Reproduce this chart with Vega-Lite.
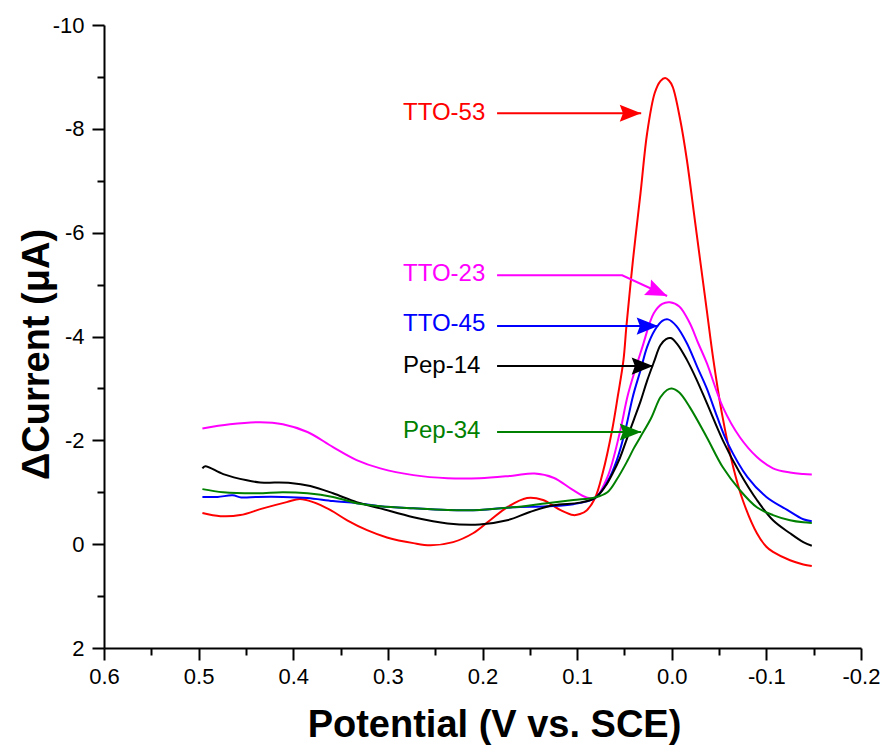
{
  "$schema": "https://vega.github.io/schema/vega-lite/v6.json",
  "width": 757,
  "height": 623,
  "autosize": "none",
  "padding": {"left": 104, "top": 25, "right": 23, "bottom": 97},
  "background": "white",
  "config": {"view": {"stroke": null}, "font": "Liberation Sans"},
  "datasets": {
    "curves": [
      {"s":"TTO-53","x":0.496,"y":-0.60},{"s":"TTO-53","x":0.477,"y":-0.54},{"s":"TTO-53","x":0.456,"y":-0.56},{"s":"TTO-53","x":0.432,"y":-0.69},{"s":"TTO-53","x":0.407,"y":-0.81},{"s":"TTO-53","x":0.393,"y":-0.87},{"s":"TTO-53","x":0.379,"y":-0.81},{"s":"TTO-53","x":0.361,"y":-0.66},{"s":"TTO-53","x":0.343,"y":-0.46},{"s":"TTO-53","x":0.322,"y":-0.27},{"s":"TTO-53","x":0.301,"y":-0.13},{"s":"TTO-53","x":0.273,"y":-0.02},{"s":"TTO-53","x":0.255,"y":0.02},{"s":"TTO-53","x":0.231,"y":-0.04},{"s":"TTO-53","x":0.21,"y":-0.21},{"s":"TTO-53","x":0.192,"y":-0.46},{"s":"TTO-53","x":0.174,"y":-0.71},{"s":"TTO-53","x":0.153,"y":-0.89},{"s":"TTO-53","x":0.136,"y":-0.85},{"s":"TTO-53","x":0.118,"y":-0.66},{"s":"TTO-53","x":0.104,"y":-0.56},{"s":"TTO-53","x":0.097,"y":-0.58},{"s":"TTO-53","x":0.09,"y":-0.65},{"s":"TTO-53","x":0.081,"y":-0.89},{"s":"TTO-53","x":0.073,"y":-1.37},{"s":"TTO-53","x":0.063,"y":-2.2},{"s":"TTO-53","x":0.057,"y":-2.85},{"s":"TTO-53","x":0.051,"y":-3.55},{"s":"TTO-53","x":0.048,"y":-4.18},{"s":"TTO-53","x":0.041,"y":-5.47},{"s":"TTO-53","x":0.033,"y":-6.76},{"s":"TTO-53","x":0.026,"y":-7.92},{"s":"TTO-53","x":0.018,"y":-8.69},{"s":"TTO-53","x":0.012,"y":-8.92},{"s":"TTO-53","x":0.007,"y":-8.98},{"s":"TTO-53","x":0.003,"y":-8.93},{"s":"TTO-53","x":-0.001,"y":-8.81},{"s":"TTO-53","x":-0.009,"y":-8.17},{"s":"TTO-53","x":-0.016,"y":-7.4},{"s":"TTO-53","x":-0.023,"y":-6.44},{"s":"TTO-53","x":-0.03,"y":-5.47},{"s":"TTO-53","x":-0.037,"y":-4.51},{"s":"TTO-53","x":-0.044,"y":-3.55},{"s":"TTO-53","x":-0.053,"y":-2.52},{"s":"TTO-53","x":-0.065,"y":-1.48},{"s":"TTO-53","x":-0.075,"y":-0.85},{"s":"TTO-53","x":-0.09,"y":-0.21},{"s":"TTO-53","x":-0.1,"y":0.05},{"s":"TTO-53","x":-0.107,"y":0.15},{"s":"TTO-53","x":-0.125,"y":0.31},{"s":"TTO-53","x":-0.139,"y":0.39},{"s":"TTO-53","x":-0.148,"y":0.42},

      {"s":"TTO-23","x":0.496,"y":-2.23},{"s":"TTO-23","x":0.467,"y":-2.31},{"s":"TTO-23","x":0.435,"y":-2.35},{"s":"TTO-23","x":0.411,"y":-2.31},{"s":"TTO-23","x":0.385,"y":-2.16},{"s":"TTO-23","x":0.358,"y":-1.87},{"s":"TTO-23","x":0.333,"y":-1.62},{"s":"TTO-23","x":0.308,"y":-1.46},{"s":"TTO-23","x":0.273,"y":-1.33},{"s":"TTO-23","x":0.237,"y":-1.27},{"s":"TTO-23","x":0.203,"y":-1.27},{"s":"TTO-23","x":0.168,"y":-1.32},{"s":"TTO-23","x":0.145,"y":-1.36},{"s":"TTO-23","x":0.125,"y":-1.28},{"s":"TTO-23","x":0.105,"y":-1.05},{"s":"TTO-23","x":0.09,"y":-0.9},{"s":"TTO-23","x":0.081,"y":-0.89},{"s":"TTO-23","x":0.068,"y":-1.29},{"s":"TTO-23","x":0.055,"y":-2.14},{"s":"TTO-23","x":0.046,"y":-2.9},{"s":"TTO-23","x":0.031,"y":-3.8},{"s":"TTO-23","x":0.019,"y":-4.45},{"s":"TTO-23","x":0.01,"y":-4.63},{"s":"TTO-23","x":0.002,"y":-4.66},{"s":"TTO-23","x":-0.008,"y":-4.58},{"s":"TTO-23","x":-0.019,"y":-4.26},{"s":"TTO-23","x":-0.028,"y":-3.87},{"s":"TTO-23","x":-0.037,"y":-3.49},{"s":"TTO-23","x":-0.054,"y":-2.64},{"s":"TTO-23","x":-0.072,"y":-2.06},{"s":"TTO-23","x":-0.09,"y":-1.68},{"s":"TTO-23","x":-0.107,"y":-1.46},{"s":"TTO-23","x":-0.125,"y":-1.38},{"s":"TTO-23","x":-0.139,"y":-1.35},{"s":"TTO-23","x":-0.148,"y":-1.34},

      {"s":"TTO-45","x":0.496,"y":-0.91},{"s":"TTO-45","x":0.48,"y":-0.91},{"s":"TTO-45","x":0.464,"y":-0.94},{"s":"TTO-45","x":0.455,"y":-0.9},{"s":"TTO-45","x":0.438,"y":-0.91},{"s":"TTO-45","x":0.411,"y":-0.91},{"s":"TTO-45","x":0.385,"y":-0.89},{"s":"TTO-45","x":0.358,"y":-0.83},{"s":"TTO-45","x":0.333,"y":-0.79},{"s":"TTO-45","x":0.308,"y":-0.73},{"s":"TTO-45","x":0.273,"y":-0.69},{"s":"TTO-45","x":0.237,"y":-0.66},{"s":"TTO-45","x":0.203,"y":-0.66},{"s":"TTO-45","x":0.168,"y":-0.71},{"s":"TTO-45","x":0.132,"y":-0.73},{"s":"TTO-45","x":0.104,"y":-0.77},{"s":"TTO-45","x":0.081,"y":-0.89},{"s":"TTO-45","x":0.068,"y":-1.2},{"s":"TTO-45","x":0.058,"y":-1.62},{"s":"TTO-45","x":0.049,"y":-2.2},{"s":"TTO-45","x":0.041,"y":-2.85},{"s":"TTO-45","x":0.033,"y":-3.35},{"s":"TTO-45","x":0.026,"y":-3.8},{"s":"TTO-45","x":0.018,"y":-4.12},{"s":"TTO-45","x":0.01,"y":-4.3},{"s":"TTO-45","x":0.004,"y":-4.33},{"s":"TTO-45","x":-0.005,"y":-4.2},{"s":"TTO-45","x":-0.016,"y":-3.87},{"s":"TTO-45","x":-0.027,"y":-3.41},{"s":"TTO-45","x":-0.037,"y":-3.0},{"s":"TTO-45","x":-0.048,"y":-2.45},{"s":"TTO-45","x":-0.059,"y":-1.95},{"s":"TTO-45","x":-0.08,"y":-1.29},{"s":"TTO-45","x":-0.1,"y":-0.91},{"s":"TTO-45","x":-0.122,"y":-0.66},{"s":"TTO-45","x":-0.139,"y":-0.48},{"s":"TTO-45","x":-0.148,"y":-0.44},

      {"s":"Pep-14","x":0.496,"y":-1.46},{"s":"Pep-14","x":0.493,"y":-1.5},{"s":"Pep-14","x":0.474,"y":-1.35},{"s":"Pep-14","x":0.449,"y":-1.23},{"s":"Pep-14","x":0.435,"y":-1.19},{"s":"Pep-14","x":0.403,"y":-1.18},{"s":"Pep-14","x":0.382,"y":-1.12},{"s":"Pep-14","x":0.358,"y":-0.98},{"s":"Pep-14","x":0.333,"y":-0.81},{"s":"Pep-14","x":0.308,"y":-0.69},{"s":"Pep-14","x":0.273,"y":-0.52},{"s":"Pep-14","x":0.237,"y":-0.4},{"s":"Pep-14","x":0.203,"y":-0.38},{"s":"Pep-14","x":0.174,"y":-0.46},{"s":"Pep-14","x":0.15,"y":-0.62},{"s":"Pep-14","x":0.125,"y":-0.75},{"s":"Pep-14","x":0.097,"y":-0.8},{"s":"Pep-14","x":0.081,"y":-0.89},{"s":"Pep-14","x":0.07,"y":-1.12},{"s":"Pep-14","x":0.062,"y":-1.38},{"s":"Pep-14","x":0.055,"y":-1.65},{"s":"Pep-14","x":0.048,"y":-2.0},{"s":"Pep-14","x":0.04,"y":-2.4},{"s":"Pep-14","x":0.033,"y":-2.75},{"s":"Pep-14","x":0.026,"y":-3.15},{"s":"Pep-14","x":0.019,"y":-3.5},{"s":"Pep-14","x":0.012,"y":-3.83},{"s":"Pep-14","x":0.006,"y":-3.95},{"s":"Pep-14","x":0.001,"y":-3.97},{"s":"Pep-14","x":-0.006,"y":-3.85},{"s":"Pep-14","x":-0.016,"y":-3.55},{"s":"Pep-14","x":-0.026,"y":-3.18},{"s":"Pep-14","x":-0.037,"y":-2.72},{"s":"Pep-14","x":-0.054,"y":-2.0},{"s":"Pep-14","x":-0.072,"y":-1.37},{"s":"Pep-14","x":-0.09,"y":-0.85},{"s":"Pep-14","x":-0.107,"y":-0.46},{"s":"Pep-14","x":-0.125,"y":-0.21},{"s":"Pep-14","x":-0.139,"y":-0.04},{"s":"Pep-14","x":-0.148,"y":0.03},

      {"s":"Pep-34","x":0.496,"y":-1.06},{"s":"Pep-34","x":0.474,"y":-1.0},{"s":"Pep-34","x":0.438,"y":-0.98},{"s":"Pep-34","x":0.411,"y":-1.0},{"s":"Pep-34","x":0.385,"y":-0.98},{"s":"Pep-34","x":0.358,"y":-0.91},{"s":"Pep-34","x":0.333,"y":-0.79},{"s":"Pep-34","x":0.308,"y":-0.73},{"s":"Pep-34","x":0.273,"y":-0.69},{"s":"Pep-34","x":0.237,"y":-0.66},{"s":"Pep-34","x":0.203,"y":-0.66},{"s":"Pep-34","x":0.168,"y":-0.71},{"s":"Pep-34","x":0.132,"y":-0.79},{"s":"Pep-34","x":0.104,"y":-0.85},{"s":"Pep-34","x":0.081,"y":-0.9},{"s":"Pep-34","x":0.068,"y":-1.0},{"s":"Pep-34","x":0.058,"y":-1.25},{"s":"Pep-34","x":0.047,"y":-1.6},{"s":"Pep-34","x":0.04,"y":-1.85},{"s":"Pep-34","x":0.033,"y":-2.07},{"s":"Pep-34","x":0.022,"y":-2.42},{"s":"Pep-34","x":0.012,"y":-2.83},{"s":"Pep-34","x":0.005,"y":-2.97},{"s":"Pep-34","x":0.0,"y":-3.0},{"s":"Pep-34","x":-0.008,"y":-2.92},{"s":"Pep-34","x":-0.019,"y":-2.64},{"s":"Pep-34","x":-0.037,"y":-2.06},{"s":"Pep-34","x":-0.054,"y":-1.48},{"s":"Pep-34","x":-0.072,"y":-1.04},{"s":"Pep-34","x":-0.09,"y":-0.71},{"s":"Pep-34","x":-0.107,"y":-0.56},{"s":"Pep-34","x":-0.125,"y":-0.46},{"s":"Pep-34","x":-0.139,"y":-0.42},{"s":"Pep-34","x":-0.148,"y":-0.41}
    ],
    "arrows": [
      {"s":"TTO-53","x":0.1846,"y":-8.30},{"s":"TTO-53","x":0.0323,"y":-8.30},
      {"s":"TTO-23","x":0.1846,"y":-5.18},{"s":"TTO-23","x":0.0524,"y":-5.18},{"s":"TTO-23","x":0.0049,"y":-4.78},
      {"s":"TTO-45","x":0.1846,"y":-4.20},{"s":"TTO-45","x":0.0144,"y":-4.20},
      {"s":"Pep-14","x":0.1846,"y":-3.43},{"s":"Pep-14","x":0.0197,"y":-3.43},
      {"s":"Pep-34","x":0.1846,"y":-2.16},{"s":"Pep-34","x":0.0323,"y":-2.16}
    ],
    "heads": [
      {"s":"TTO-53","x":0.0323,"y":-8.30},
      {"s":"TTO-23","x":0.0049,"y":-4.78},
      {"s":"TTO-45","x":0.0144,"y":-4.20},
      {"s":"Pep-14","x":0.0197,"y":-3.43},
      {"s":"Pep-34","x":0.0323,"y":-2.16}
    ],
    "labels": [
      {"s":"TTO-53","x":0.284,"y":-8.30},
      {"s":"TTO-23","x":0.284,"y":-5.20},
      {"s":"TTO-45","x":0.284,"y":-4.25},
      {"s":"Pep-14","x":0.284,"y":-3.43},
      {"s":"Pep-34","x":0.284,"y":-2.18}
    ]
  },
  "encoding": {
    "x": {
      "field": "x", "type": "quantitative",
      "scale": {"domain": [-0.2, 0.6], "reverse": true, "nice": false, "zero": false},
      "axis": {
        "values": [-0.2,-0.15,-0.1,-0.05,0,0.05,0.1,0.15,0.2,0.25,0.3,0.35,0.4,0.45,0.5,0.55,0.6],
        "labelExpr": "abs(round(datum.value*10)-datum.value*10) < 0.01 ? replace(format(datum.value, '.1f'), '\u2212', '-') : ''",
        "tickSize": {"condition": {"test": "abs(round(datum.value*10)-datum.value*10) > 0.01", "value": 7}, "value": 12},
        "grid": false, "labelOverlap": false, "labelFlush": false,
        "domainColor": "black", "domainWidth": 2, "tickColor": "black", "tickWidth": 2,
        "labelColor": "black", "labelFont": "Liberation Sans", "labelFontSize": 22, "labelPadding": 6,
        "title": "Potential (V vs. SCE)", "titleFont": "Liberation Sans", "titleFontSize": 38, "titleFontWeight": "bold",
        "titleColor": "black", "titleX": 390, "titleY": 88, "titleBaseline": "alphabetic", "titleAnchor": "middle", "titleAlign": "center"
      }
    },
    "y": {
      "field": "y", "type": "quantitative",
      "scale": {"domain": [-10, 2], "reverse": true, "nice": false, "zero": false},
      "axis": {
        "values": [-10,-9,-8,-7,-6,-5,-4,-3,-2,-1,0,1,2],
        "labelExpr": "datum.value % 2 == 0 ? replace(format(datum.value, 'd'), '\u2212', '-') : ''",
        "tickSize": {"condition": {"test": "datum.value % 2 != 0", "value": 7}, "value": 12},
        "grid": false, "labelOverlap": false, "labelFlush": false,
        "domainColor": "black", "domainWidth": 2, "tickColor": "black", "tickWidth": 2,
        "labelColor": "black", "labelFont": "Liberation Sans", "labelFontSize": 22, "labelPadding": 8,
        "title": "ΔCurrent (μA)", "titleFont": "Liberation Sans", "titleFontSize": 38, "titleFontWeight": "bold",
        "titleColor": "black", "titleAngle": -90, "titleX": -56, "titleY": 329, "titleBaseline": "alphabetic", "titleAlign": "center"
      }
    },
    "color": {
      "field": "s", "type": "nominal",
      "scale": {"domain": ["TTO-53","TTO-23","TTO-45","Pep-14","Pep-34"], "range": ["#FF0000","#FF00FF","#0000FF","#000000","#008000"]},
      "legend": null
    }
  },
  "layer": [
    {"data": {"name": "curves"}, "mark": {"type": "line", "strokeWidth": 2, "interpolate": "catmull-rom", "clip": true}},
    {"data": {"name": "arrows"}, "mark": {"type": "line", "strokeWidth": 2, "interpolate": "linear"}},
    {"data": {"name": "heads"}, "transform": [{"filter": "datum.s != 'TTO-23'"}],
     "mark": {"type": "point", "filled": true, "opacity": 1, "size": 460, "shape": "M0,0L-2,-0.8L-1.7,0L-2,0.8Z", "strokeWidth": 0}},
    {"data": {"name": "heads"}, "transform": [{"filter": "datum.s == 'TTO-23'"}],
     "mark": {"type": "point", "filled": true, "opacity": 1, "size": 460, "angle": 24, "shape": "M0,0L-2,-0.8L-1.7,0L-2,0.8Z", "strokeWidth": 0}},
    {"data": {"name": "labels"}, "mark": {"type": "text", "align": "left", "baseline": "middle", "font": "Liberation Sans", "fontSize": 24},
     "encoding": {"text": {"field": "s"}}}
  ]
}
